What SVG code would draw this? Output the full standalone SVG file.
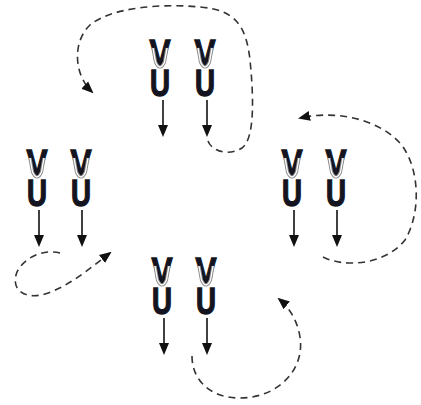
<svg xmlns="http://www.w3.org/2000/svg" width="421" height="405" viewBox="0 0 421 405">
<style>
.l{font-family:"Liberation Sans",Arial,sans-serif;font-weight:bold;font-size:37px;fill:#141420;stroke:#141420;stroke-width:1.4;text-anchor:middle}
.lo{fill:none;stroke:#8a8a8a;stroke-width:3.2}
.li{fill:none;stroke:#fff;stroke-width:1.3}
.ar{stroke:#111;stroke-width:1.6}
.ah{fill:#111}
.d{fill:none;stroke:#333;stroke-width:1.6;stroke-dasharray:7 5;marker-end:url(#m)}
</style>
<defs>
<marker id="m" markerWidth="12" markerHeight="12" refX="10" refY="5" orient="auto" markerUnits="userSpaceOnUse" viewBox="0 0 12 10">
<path d="M0,0 L12,5 L0,10 Z" fill="#111"/>
</marker>
<g id="loop"><path class="lo" d="M-7,10 L-4.5,24 Q0,34 4.5,24 L7,10"/><path class="li" d="M-7,10 L-4.5,24 Q0,34 4.5,24 L7,10"/></g>
<g id="arr"><line class="ar" x1="0" y1="62" x2="0" y2="89"/><path class="ah" d="M-5,87 L5,87 L0,99 Z"/></g>
</defs>
<g id="connectors">
<path class="d" d="M208,141 C212,152 230,156 242,148 C256,138 253,90 250,60 C246,25 235,10 200,7 C160,3 110,8 90,25 C72,42 74,75 92,92"/>
<path class="d" d="M323,257 C345,268 385,265 405,240 C420,215 420,175 405,150 C390,125 345,108 300,118"/>
<path class="d" d="M192,356 C192,380 210,398 240,398 C270,398 295,380 300,353 C303,335 295,312 279,299"/>
<path class="d" d="M60,253 C45,249 25,256 17,272 C10,290 25,300 45,294 C70,286 90,268 110,253"/>
</g>
<g id="node-top">
<text class="l" x="160" y="65.5" textLength="21" lengthAdjust="spacingAndGlyphs">V</text>
<text class="l" x="160" y="96" textLength="20" lengthAdjust="spacingAndGlyphs">U</text>
<use href="#loop" x="160" y="38"/><use href="#arr" x="163" y="38"/>
<text class="l" x="205" y="65.5" textLength="21" lengthAdjust="spacingAndGlyphs">V</text>
<text class="l" x="205" y="96" textLength="20" lengthAdjust="spacingAndGlyphs">U</text>
<use href="#loop" x="205" y="38"/><use href="#arr" x="207" y="38"/>
</g>
<g id="node-left">
<text class="l" x="37" y="175.5" textLength="21" lengthAdjust="spacingAndGlyphs">V</text>
<text class="l" x="37" y="206" textLength="20" lengthAdjust="spacingAndGlyphs">U</text>
<use href="#loop" x="37" y="148"/><use href="#arr" x="39" y="148"/>
<text class="l" x="81" y="175.5" textLength="21" lengthAdjust="spacingAndGlyphs">V</text>
<text class="l" x="81" y="206" textLength="20" lengthAdjust="spacingAndGlyphs">U</text>
<use href="#loop" x="81" y="148"/><use href="#arr" x="82" y="148"/>
</g>
<g id="node-right">
<text class="l" x="292" y="175.5" textLength="21" lengthAdjust="spacingAndGlyphs">V</text>
<text class="l" x="292" y="206" textLength="20" lengthAdjust="spacingAndGlyphs">U</text>
<use href="#loop" x="292" y="148"/><use href="#arr" x="294" y="148"/>
<text class="l" x="336" y="175.5" textLength="21" lengthAdjust="spacingAndGlyphs">V</text>
<text class="l" x="336" y="206" textLength="20" lengthAdjust="spacingAndGlyphs">U</text>
<use href="#loop" x="336" y="148"/><use href="#arr" x="337" y="148"/>
</g>
<g id="node-bottom">
<text class="l" x="162" y="283.5" textLength="21" lengthAdjust="spacingAndGlyphs">V</text>
<text class="l" x="162" y="314" textLength="20" lengthAdjust="spacingAndGlyphs">U</text>
<use href="#loop" x="162" y="256"/><use href="#arr" x="164" y="256"/>
<text class="l" x="206" y="283.5" textLength="21" lengthAdjust="spacingAndGlyphs">V</text>
<text class="l" x="206" y="314" textLength="20" lengthAdjust="spacingAndGlyphs">U</text>
<use href="#loop" x="206" y="256"/><use href="#arr" x="207" y="256"/>
</g>
</svg>
